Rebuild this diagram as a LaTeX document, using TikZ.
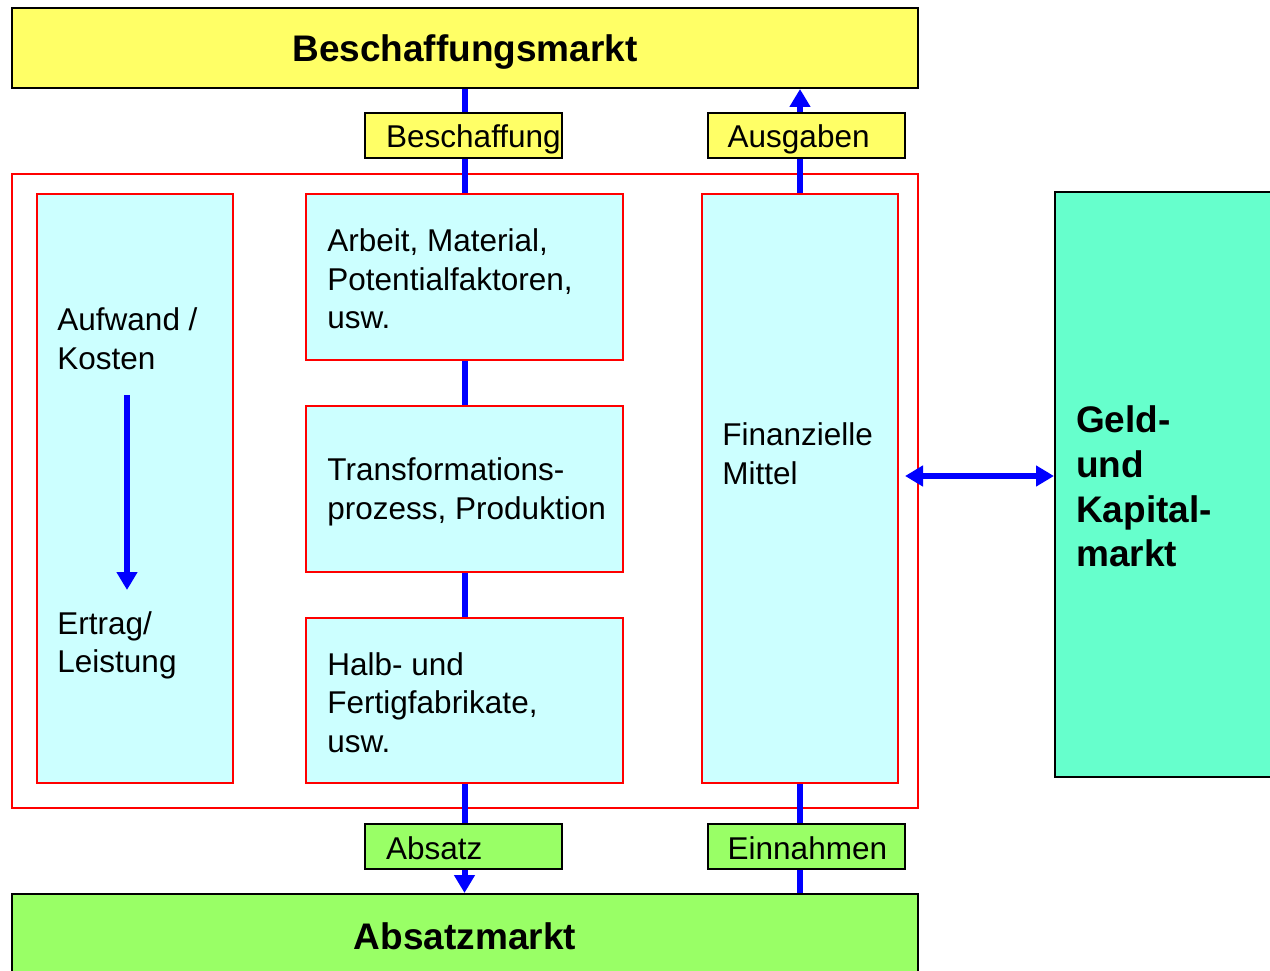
\documentclass[tikz,border=0pt]{standalone}
\usepackage{fontspec}
\setmainfont{Liberation Sans}
\usepackage{xcolor}
\usetikzlibrary{positioning, calc, arrows.meta}
\definecolor{marktgelb}{HTML}{FFFF66}
\definecolor{hellcyan}{HTML}{CCFFFF}
\definecolor{hellgruen}{HTML}{99FF66}
\definecolor{tuerkis}{HTML}{66FFCC}
\newcommand{\txt}{\fontsize{31.5}{38.5}\selectfont}
\newcommand{\titel}{\fontsize{37}{44.7}\selectfont\bfseries}

\begin{document}
\begin{tikzpicture}[x=1pt, y=-1pt, >={Triangle[width=20pt,length=18pt]},
    markt/.style={draw=black, line width=2pt, inner sep=0pt},
    tagbox/.style={draw=black, line width=2pt, inner sep=0pt, minimum width=197pt, minimum height=45pt},
    feld/.style={draw=red, line width=1.5pt, fill=hellcyan, inner sep=0pt},
    flow/.style={draw=blue, line width=6pt},
    feldtext/.style={anchor=west, align=left, inner sep=0pt, font=\txt}]
    \useasboundingbox (0,0) rectangle (1270,971);

    % --- Markets ---
    \node[markt, fill=marktgelb, minimum width=906pt, minimum height=80pt, font=\titel, text height=35pt, text depth=7.8pt] (beschmarkt) at (465,48) {Beschaffungsmarkt};
    \node[markt, fill=hellgruen, minimum width=906pt, minimum height=84pt, font=\titel] (absmarkt) at (465,936) {Absatzmarkt};
    \node[markt, fill=tuerkis, minimum width=217pt, minimum height=585pt] (geld) at (1163.5,484.5) {};

    % --- Company frame and fields ---
    \node[draw=red, line width=1.5pt, minimum width=906pt, minimum height=634pt] (betrieb) at (465,491) {};
    \node[feld, minimum width=196pt, minimum height=589pt] (erfolg) at (135,488.5) {};
    \node[feld, minimum width=317pt, minimum height=166pt] (faktoren) at (464.5,277) {};
    \node[feld, minimum width=317pt, minimum height=166pt] (transform) at (464.5,489) {};
    \node[feld, minimum width=317pt, minimum height=165pt] (produkte) at (464.5,700.5) {};
    \node[feld, minimum width=196pt, minimum height=589pt] (finanz) at (800,488.5) {};

    % --- Flows ---
    \draw[flow] (beschmarkt.south -| faktoren.north) -- (faktoren.north);
    \draw[flow] (faktoren.south) -- (transform.north);
    \draw[flow] (transform.south) -- (produkte.north);
    \draw[flow, ->] (produkte.south) -- (produkte.south |- absmarkt.north);
    \draw[flow, ->] (finanz.north) -- (finanz.north |- beschmarkt.south);
    \draw[flow] (finanz.south) -- (finanz.south |- absmarkt.north);
    % Aufwand -> Ertrag
    \coordinate (aufwand) at (127,395);
    \coordinate (ertrag) at (127,590);
    \draw[flow, ->] (aufwand) -- (ertrag);
    % Finanzielle Mittel <-> Geldmarkt
    \coordinate (fm) at (905,476);
    \draw[flow, <->] (fm) -- (fm -| geld.west);

    % --- Flow labels ---
    \node[tagbox, fill=marktgelb] (beschaffung) at (463.5,135.5) {};
    \node[tagbox, fill=marktgelb] (ausgaben) at (806,135.5) {};
    \node[tagbox, fill=hellgruen] (absatz) at (463.5,846.5) {};
    \node[tagbox, fill=hellgruen] (einnahmen) at (806,846.5) {};
    \node[feldtext] at ([xshift=22pt, yshift=-4pt]beschaffung.west) {Beschaffung};
    \node[feldtext] at ([xshift=21pt, yshift=-4pt]ausgaben.west) {Ausgaben};
    \node[feldtext] at ([xshift=22pt, yshift=-2pt]absatz.west) {Absatz};
    \node[feldtext] at ([xshift=21pt, yshift=-2pt]einnahmen.west) {Einnahmen};

    % --- Field texts ---
    \node[feldtext] at ([xshift=21pt, yshift=150pt]erfolg.west) {Aufwand /\\Kosten};
    \node[feldtext] at ([xshift=21pt, yshift=-157pt]erfolg.west) {Ertrag/\\Leistung};
    \node[feldtext] at ([xshift=22pt, yshift=-2pt]faktoren.west) {Arbeit, Material,\\Potentialfaktoren,\\usw.};
    \node[feldtext] at ([xshift=22pt, yshift=-3pt]transform.west) {Transformations-\\prozess, Produktion};
    \node[feldtext] at ([xshift=22pt, yshift=-2pt]produkte.west) {Halb- und\\Fertigfabrikate,\\usw.};
    \node[feldtext] at ([xshift=21pt, yshift=35pt]finanz.west) {Finanzielle\\Mittel};
    \node[anchor=west, align=left, inner sep=0pt, font=\titel] at ([xshift=22pt, yshift=-2pt]geld.west) {Geld-\\und\\Kapital-\\markt};
\end{tikzpicture}
\end{document}
